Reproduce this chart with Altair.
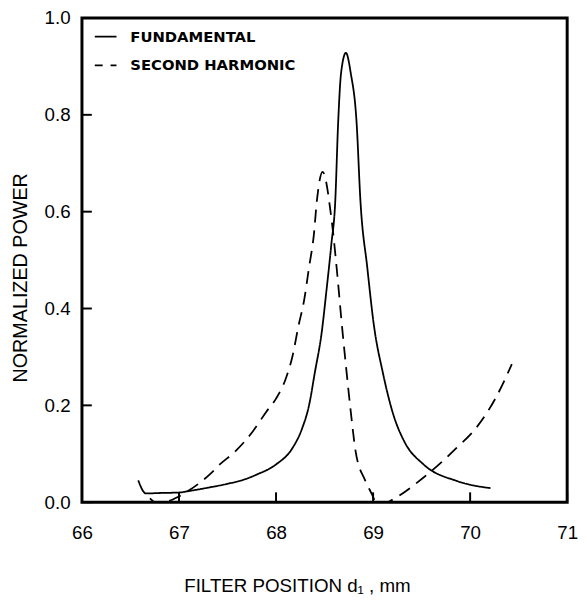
import altair as alt
import pandas as pd

# Fundamental (solid)
fund_x = [66.58, 66.66, 66.80, 67.00, 67.10, 67.30, 67.50, 67.66, 67.80, 68.00,
          68.17, 68.27, 68.34, 68.40, 68.47, 68.52, 68.57, 68.61, 68.64, 68.67,
          68.72, 68.77, 68.83, 68.87, 68.94, 69.01, 69.10, 69.21, 69.32, 69.52,
          69.86, 70.21]
fund_y = [0.045, 0.018, 0.019, 0.020, 0.023, 0.030, 0.038, 0.046, 0.057, 0.078,
          0.112, 0.153, 0.200, 0.268, 0.350, 0.438, 0.533, 0.621, 0.784, 0.886,
          0.928, 0.886, 0.784, 0.621, 0.485, 0.363, 0.268, 0.180, 0.126, 0.078,
          0.044, 0.029]

# Second harmonic (dashed)
sh_x = [66.70, 66.76, 66.83, 67.00, 67.10, 67.22, 67.32, 67.42, 67.58, 67.76,
        67.90, 68.00, 68.10, 68.17, 68.23, 68.29, 68.34, 68.39, 68.42, 68.48,
        68.57, 68.64, 68.67, 68.72, 68.77, 68.82, 68.92, 69.01, 69.02, 69.15,
        69.18, 69.52, 69.86, 70.06, 70.26, 70.43]
sh_y = [0.008, 0.000, 0.000, 0.012, 0.024, 0.041, 0.058, 0.078, 0.105, 0.146,
        0.187, 0.214, 0.255, 0.302, 0.363, 0.418, 0.485, 0.553, 0.621, 0.682,
        0.587, 0.451, 0.384, 0.282, 0.187, 0.105, 0.044, 0.006, 0.000, 0.000,
        0.003, 0.051, 0.112, 0.153, 0.214, 0.285]

series_names = ["FUNDAMENTAL", "SECOND HARMONIC"]
x_ticks = [66, 67, 68, 69, 70, 71]
y_ticks = [0.0, 0.2, 0.4, 0.6, 0.8, 1.0]

W, H = 492, 491

df = pd.concat([
    pd.DataFrame({"x": fund_x, "y": fund_y, "series": series_names[0]}),
    pd.DataFrame({"x": sh_x, "y": sh_y, "series": series_names[1]}),
])

xscale = alt.Scale(domain=[66, 71], nice=False, zero=False)
yscale = alt.Scale(domain=[0, 1], nice=False)

lines = alt.Chart(df).mark_line(
    color="black", strokeWidth=1.8, interpolate="monotone"
).encode(
    x=alt.X("x:Q", scale=xscale,
            axis=alt.Axis(values=x_ticks, format="d", ticks=False, tickSize=0,
                          labelFlush=False, labelPadding=22,
                          title="FILTER POSITION d\u2081 , mm",
                          titleFontSize=19, titlePadding=35, titleX=218)),
    y=alt.Y("y:Q", scale=yscale,
            axis=alt.Axis(values=y_ticks, format=".1f", ticks=False, tickSize=0,
                          labelFlush=False, labelPadding=12,
                          title="NORMALIZED POWER",
                          titlePadding=14, titleY=263)),
    strokeDash=alt.StrokeDash(
        "series:N",
        scale=alt.Scale(domain=series_names, range=[[1, 0], [13, 8]]),
        legend=alt.Legend(orient="none", legendX=12, legendY=7, title=None,
                          symbolType="stroke", symbolSize=484,
                          symbolStrokeColor="black", symbolStrokeWidth=1.8,
                          symbolDashOffset=5, labelOffset=13, rowPadding=9,
                          labelFont="DejaVu Sans", labelFontSize=15,
                          labelFontWeight="bold", labelColor="black",
                          labelLimit=400, padding=0),
    ),
)

xtick_df = pd.DataFrame({"t": x_ticks})
ytick_df = pd.DataFrame({"t": y_ticks})

xticks = alt.Chart(xtick_df).mark_rule(color="black", strokeWidth=2).encode(
    x=alt.X("t:Q", scale=xscale),
    y=alt.value(H),
    y2=alt.value(H - 10),
)
yticks = alt.Chart(ytick_df).mark_rule(color="black", strokeWidth=2).encode(
    y=alt.Y("t:Q", scale=yscale),
    x=alt.value(0),
    x2=alt.value(10),
)

chart = alt.layer(lines, xticks, yticks).properties(
    width=W, height=H,
    autosize=alt.AutoSizeParams(type="none"),
    padding={"left": 75, "top": 6, "right": 12, "bottom": 92},
).configure_view(
    stroke="black", strokeWidth=3
).configure_axis(
    grid=False, domain=False,
    labelFont="Liberation Sans", labelFontSize=19, labelColor="black",
    titleFont="Liberation Sans", titleFontSize=20, titleFontWeight="normal",
    titleColor="black",
)

chart.save("out.html", embed_options={"renderer": "svg", "actions": False})
